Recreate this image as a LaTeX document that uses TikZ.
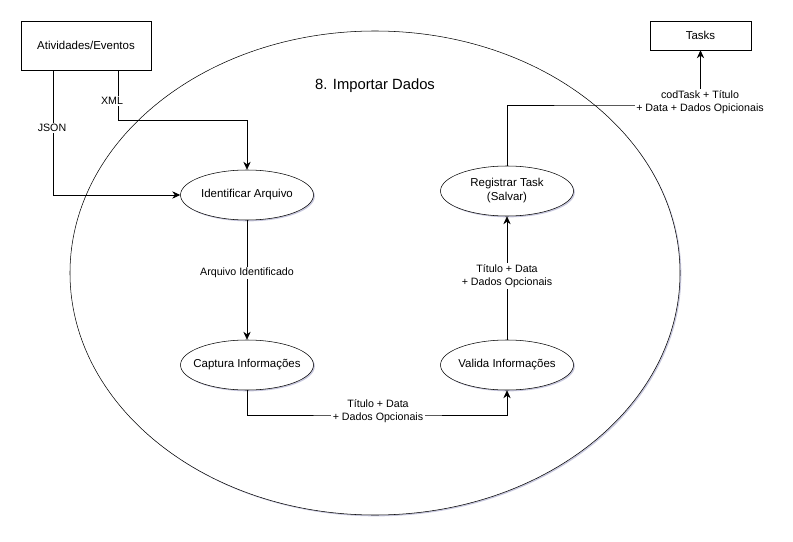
\documentclass[tikz,border=0pt]{standalone}
\usepackage{fontspec}
\setmainfont{Liberation Sans}
\usetikzlibrary{arrows.meta,shapes.geometric,shadows}
\begin{document}
\begin{tikzpicture}[x=0.75pt,y=-0.75pt,
  every node/.style={font=\fontsize{8.6}{10.5}\selectfont},
  shd/.style={drop shadow={shadow xshift=1pt,shadow yshift=-1pt,opacity=0.35,fill=blue!25!gray}},
  proc/.style={ellipse,draw,fill=white,shd,minimum width=99.75pt,minimum height=37.5pt,inner sep=0pt},
  ptext/.style={align=center,inner sep=0pt},
  ext/.style={rectangle,draw,fill=white,shd,inner sep=0pt,align=center},
  lab/.style={fill=white,inner sep=1pt,align=center,font=\fontsize{8}{9.6}\selectfont},
  arr/.style={draw,line width=0.6pt,-{Stealth[length=6pt,width=5.5pt]}}]
\useasboundingbox (0,0) rectangle (793,542);
\node[ellipse,draw,fill=white,shd,minimum width=457.5pt,minimum height=363pt,inner sep=0pt] (outer) at (375,273) {};
\node[font=\fontsize{11.1}{13}\selectfont] (title) at (375,86) {8. Importar Dados};
\node[ext,minimum width=97.5pt,minimum height=36.75pt] (act) at (86,45.5) {Atividades/Eventos};
\node[ext,minimum width=75.75pt,minimum height=21.75pt] (tasks) at (700.5,35.5) {Tasks};
\node[proc] (ident) at (247,195) {};
\node[proc] (capt) at (247,365) {};
\node[proc] (valida) at (507,365) {};
\node[proc] (reg) at (507,191) {};
\node[ptext] (identt) at (ident.center) {Identificar Arquivo};
\node[ptext] (captt) at (capt.center) {Captura Informações};
\node[ptext] (validat) at (valida.center) {Valida Informações};
\node[ptext] (regt) at (reg.center) {Registrar Task\\(Salvar)};
\coordinate (jsonx) at (53,0);
\coordinate (xmlbend) at (118,120);
\coordinate (cv) at (378,415);
\coordinate (rt) at (600,105);
\draw[arr] (act.south -| jsonx) |- (ident.west);
\draw[arr] (act.south -| xmlbend) -- (xmlbend) -| (ident.north);
\draw[arr] (ident.south) -- (capt.north);
\draw[arr] (capt.south) |- (cv) -| (valida.south);
\draw[arr] (valida.north) -- (reg.south);
\draw[arr] (reg.north) |- (rt) -| (tasks.south);
\node[lab] (ljson) at (52,128) {JSON};
\node[lab] (lxml) at (112,101) {XML};
\node[lab] (larq) at (247,273) {Arquivo Identificado};
\node[lab] (lcv) at (378,411) {Título + Data\\+ Dados Opcionais};
\node[lab] (lvr) at (507,276) {Título + Data\\+ Dados Opcionais};
\node[lab] (lrt) at (700,102) {codTask + Título\\+ Data + Dados Opicionais};
\end{tikzpicture}
\end{document}
